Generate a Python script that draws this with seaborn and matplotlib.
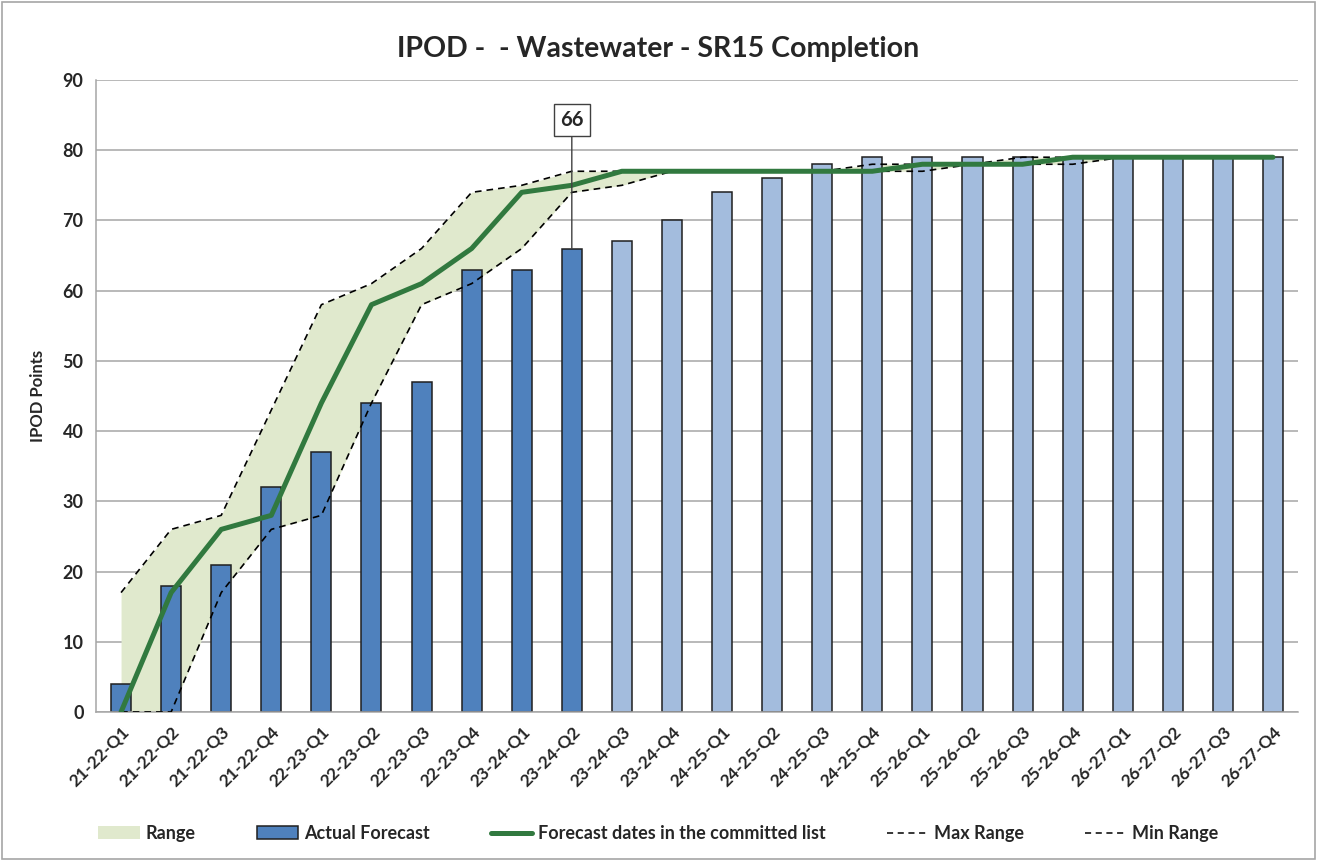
import numpy as np
import pandas as pd
import seaborn as sns
from matplotlib import pyplot as plt
from matplotlib.patches import Patch, Rectangle
from matplotlib.lines import Line2D

# quarters on the x axis
quarters = ['21-22-Q1', '21-22-Q2', '21-22-Q3', '21-22-Q4',
            '22-23-Q1', '22-23-Q2', '22-23-Q3', '22-23-Q4',
            '23-24-Q1', '23-24-Q2', '23-24-Q3', '23-24-Q4',
            '24-25-Q1', '24-25-Q2', '24-25-Q3', '24-25-Q4',
            '25-26-Q1', '25-26-Q2', '25-26-Q3', '25-26-Q4',
            '26-27-Q1', '26-27-Q2', '26-27-Q3', '26-27-Q4']

# actual / forecast points (first 10 are actuals)
actual_forecast = [4, 18, 21, 32, 37, 44, 47, 63, 63, 66, 67, 70,
                   74, 76, 78, 79, 79, 79, 79, 79, 79, 79, 79, 79]
n_actual = 10

committed = [0, 17, 26, 28, 44, 58, 61, 66, 74, 75, 77, 77,
             77, 77, 77, 77, 78, 78, 78, 79, 79, 79, 79, 79]
max_range = [17, 26, 28, 43, 58, 61, 66, 74, 75, 77, 77, 77,
             77, 77, 77, 78, 78, 78, 79, 79, 79, 79, 79, 79]
min_range = [0, 0, 17, 26, 28, 44, 58, 61, 66, 74, 75, 77,
             77, 77, 77, 77, 77, 78, 78, 78, 79, 79, 79, 79]

label_value = 66
label_quarter = '23-24-Q2'

dark_blue = '#4F81BD'
light_blue = '#A3BCDD'
green = '#31793F'
range_fill = '#E0E9CD'

sns.set_style('white')
plt.rcParams['font.family'] = ['Lato', 'DejaVu Sans']
plt.rcParams['font.weight'] = 'bold'

df = pd.DataFrame({'quarter': quarters, 'points': actual_forecast})
bar_colors = [dark_blue if i < n_actual else light_blue for i in range(len(quarters))]

fig = plt.figure(figsize=(13.17, 8.61), dpi=100)
ax = fig.add_axes([0.0729, 0.1731, 0.9127, 0.734])
fig.patches.append(Rectangle((0.0015, 0.002), 0.997, 0.996, transform=fig.transFigure,
                             fill=False, edgecolor='#A6A6A6', linewidth=1.2))

x = np.arange(len(quarters))
ax.fill_between(x, min_range, max_range, color=range_fill, linewidth=0, zorder=1)

sns.barplot(data=df, x='quarter', y='points', hue='quarter', palette=bar_colors,
            saturation=1, legend=False, width=0.4, edgecolor='#1F1F1F', linewidth=1.1,
            ax=ax, zorder=2)

sns.lineplot(x=x, y=max_range, color='black', linestyle=(0, (4, 3)), linewidth=1.2, ax=ax, zorder=3)
sns.lineplot(x=x, y=min_range, color='black', linestyle=(0, (4, 3)), linewidth=1.2, ax=ax, zorder=3)
sns.lineplot(x=x, y=committed, color=green, linewidth=3.6, ax=ax, zorder=4)

# callout box for the latest actual
xi = quarters.index(label_quarter)
ax.annotate(str(label_value), xy=(xi, label_value), xytext=(xi, 84.3),
            ha='center', va='center', fontsize=14.5, fontweight='bold',
            bbox=dict(boxstyle='square,pad=0.3', fc='white', ec='#404040', lw=1.0),
            arrowprops=dict(arrowstyle='-', color='#404040', lw=1.0, shrinkA=0, shrinkB=0),
            zorder=6)

ax.set_xlim(-0.5, len(quarters) - 0.5)
ax.set_ylim(0, 90)
ax.set_yticks(range(0, 91, 10))
ax.yaxis.grid(True, color='#A6A6A6', linewidth=1.1)
ax.set_axisbelow(True)
for s in ['top', 'right']:
    ax.spines[s].set_visible(False)
for s in ['left', 'bottom']:
    ax.spines[s].set_color('#A6A6A6')
    ax.spines[s].set_linewidth(1.1)

ax.set_xticks(x)
ax.set_xticklabels(quarters, rotation=45, ha='right', va='top', rotation_mode='anchor',
                   fontsize=12.5, fontweight='bold')
ax.tick_params(axis='x', length=0, pad=8)
ax.set_xticks(np.arange(-0.5, len(quarters), 1), minor=True)
ax.tick_params(axis='x', which='minor', length=5, color='#A6A6A6', direction='out')
ax.tick_params(axis='y', length=5, color='#A6A6A6', direction='out', labelsize=13, pad=4)
for lab in ax.get_yticklabels():
    lab.set_fontweight('bold')

ax.set_xlabel('')
ax.set_ylabel('IPOD Points', fontsize=12, fontweight='bold', labelpad=12)
fig.suptitle('IPOD -  - Wastewater - SR15 Completion', fontsize=20.5, fontweight='bold', y=0.958)

handles = [
    Patch(facecolor=range_fill, edgecolor='none'),
    Patch(facecolor=dark_blue, edgecolor='#1F1F1F', linewidth=1.1),
    Line2D([0], [0], color=green, linewidth=3.6),
    Line2D([0], [0], color='black', linestyle=(0, (4, 3)), linewidth=1.1),
    Line2D([0], [0], color='black', linestyle=(0, (4, 3)), linewidth=1.1),
]
labels = ['Range', 'Actual Forecast', 'Forecast dates in the committed list', 'Max Range', 'Min Range']
fig.legend(handles, labels, loc='center', bbox_to_anchor=(0.5, 0.032), ncol=5, frameon=False,
           prop={'size': 13, 'weight': 'bold'}, handlelength=2.3, handletextpad=0.3,
           columnspacing=3.4)

plt.savefig('out.png', dpi=100)
